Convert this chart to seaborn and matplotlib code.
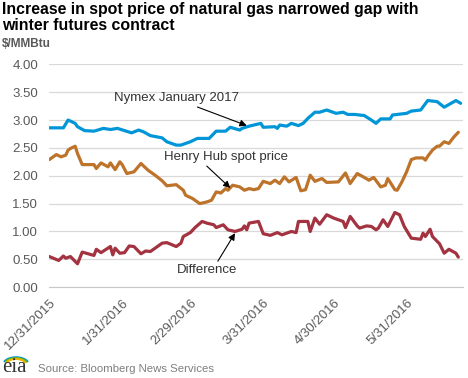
import matplotlib
matplotlib.use("Agg")
import numpy as np
import pandas as pd
import matplotlib.pyplot as plt
import matplotlib.dates as mdates
import seaborn as sns

# ------------------------------
# Data ($/MMBtu)
# ------------------------------
nymex_dates = ["2015-12-31", "2016-01-06", "2016-01-08", "2016-01-11", "2016-01-12", "2016-01-15",
               "2016-01-19", "2016-01-23", "2016-01-26", "2016-01-29", "2016-02-01", "2016-02-04",
               "2016-02-07", "2016-02-09", "2016-02-12", "2016-02-17", "2016-02-19", "2016-02-23",
               "2016-02-25", "2016-02-29", "2016-03-03", "2016-03-08", "2016-03-11", "2016-03-15",
               "2016-03-17", "2016-03-21", "2016-03-22", "2016-03-25", "2016-03-28", "2016-03-30",
               "2016-03-31", "2016-04-05", "2016-04-06", "2016-04-07", "2016-04-10", "2016-04-12",
               "2016-04-15", "2016-04-17", "2016-04-19", "2016-04-22", "2016-04-24", "2016-04-27",
               "2016-05-01", "2016-05-04", "2016-05-06", "2016-05-09", "2016-05-13", "2016-05-16",
               "2016-05-18", "2016-05-20", "2016-05-24", "2016-05-25", "2016-05-31", "2016-06-02",
               "2016-06-06", "2016-06-09", "2016-06-13", "2016-06-16", "2016-06-21", "2016-06-23"]
nymex_vals = [2.86, 2.86, 3.00, 2.94, 2.88, 2.81, 2.80, 2.85, 2.83, 2.85,
              2.81, 2.77, 2.82, 2.79, 2.72, 2.68, 2.61, 2.55, 2.55, 2.61,
              2.67, 2.67, 2.80, 2.80, 2.87, 2.82, 2.85, 2.89, 2.92, 2.94,
              2.87, 2.88, 2.85, 2.91, 2.89, 2.94, 2.90, 2.94, 3.03, 3.14,
              3.14, 3.18, 3.12, 3.14, 3.10, 3.10, 3.08, 3.00, 2.94, 3.02,
              3.02, 3.09, 3.12, 3.16, 3.18, 3.35, 3.33, 3.23, 3.35, 3.30]

hh_dates = ["2015-12-31", "2016-01-03", "2016-01-05", "2016-01-07", "2016-01-08", "2016-01-09",
            "2016-01-11", "2016-01-12", "2016-01-14", "2016-01-19", "2016-01-20", "2016-01-22",
            "2016-01-25", "2016-01-26", "2016-01-28", "2016-01-30", "2016-01-31", "2016-02-02",
            "2016-02-05", "2016-02-08", "2016-02-11", "2016-02-14", "2016-02-17", "2016-02-19",
            "2016-02-23", "2016-02-26", "2016-02-27", "2016-03-01", "2016-03-04", "2016-03-07",
            "2016-03-09", "2016-03-11", "2016-03-13", "2016-03-15", "2016-03-16", "2016-03-18",
            "2016-03-21", "2016-03-23", "2016-03-25", "2016-03-27", "2016-03-29", "2016-03-31",
            "2016-04-03", "2016-04-05", "2016-04-07", "2016-04-09", "2016-04-11", "2016-04-14",
            "2016-04-16", "2016-04-18", "2016-04-20", "2016-04-22", "2016-04-25", "2016-04-27",
            "2016-05-02", "2016-05-05", "2016-05-07", "2016-05-10", "2016-05-13", "2016-05-15",
            "2016-05-17", "2016-05-20", "2016-05-22", "2016-05-23", "2016-05-26", "2016-05-27",
            "2016-05-29", "2016-05-31", "2016-06-02", "2016-06-04", "2016-06-07", "2016-06-08",
            "2016-06-09", "2016-06-11", "2016-06-13", "2016-06-14", "2016-06-16", "2016-06-18",
            "2016-06-20", "2016-06-22"]
hh_vals = [2.29, 2.38, 2.34, 2.37, 2.46, 2.49, 2.53, 2.40, 2.20, 2.20,
           2.13, 2.23, 2.16, 2.23, 2.11, 2.25, 2.20, 2.04, 2.07, 2.22,
           2.10, 2.01, 1.91, 1.82, 1.84, 1.74, 1.65, 1.59, 1.50, 1.53,
           1.56, 1.71, 1.69, 1.77, 1.74, 1.83, 1.80, 1.74, 1.77, 1.75,
           1.77, 1.90, 1.86, 1.92, 1.86, 1.98, 1.89, 1.97, 1.73, 1.75,
           2.01, 1.90, 1.95, 1.88, 1.89, 2.05, 1.86, 2.04, 1.97, 1.92,
           1.97, 1.80, 1.83, 1.95, 1.75, 1.74, 1.89, 2.07, 2.29, 2.32,
           2.32, 2.28, 2.35, 2.46, 2.53, 2.53, 2.61, 2.58, 2.69, 2.78]

diff_dates = ["2015-12-31", "2016-01-04", "2016-01-06", "2016-01-07", "2016-01-09", "2016-01-12",
              "2016-01-14", "2016-01-19", "2016-01-20", "2016-01-22", "2016-01-26", "2016-01-27",
              "2016-01-28", "2016-01-30", "2016-02-01", "2016-02-03", "2016-02-05", "2016-02-08",
              "2016-02-10", "2016-02-12", "2016-02-17", "2016-02-19", "2016-02-23", "2016-02-25",
              "2016-02-26", "2016-02-29", "2016-03-02", "2016-03-05", "2016-03-07", "2016-03-10",
              "2016-03-11", "2016-03-14", "2016-03-16", "2016-03-19", "2016-03-22", "2016-03-23",
              "2016-03-24", "2016-03-25", "2016-03-29", "2016-03-31", "2016-04-03", "2016-04-06",
              "2016-04-08", "2016-04-12", "2016-04-14", "2016-04-15", "2016-04-19", "2016-04-20",
              "2016-04-22", "2016-04-24", "2016-04-27", "2016-04-30", "2016-05-04", "2016-05-05",
              "2016-05-07", "2016-05-10", "2016-05-11", "2016-05-14", "2016-05-16", "2016-05-18",
              "2016-05-19", "2016-05-21", "2016-05-23", "2016-05-26", "2016-05-28", "2016-05-30",
              "2016-06-02", "2016-06-06", "2016-06-07", "2016-06-08", "2016-06-10", "2016-06-11",
              "2016-06-14", "2016-06-16", "2016-06-18", "2016-06-21", "2016-06-22"]
diff_vals = [0.55, 0.48, 0.56, 0.52, 0.55, 0.42, 0.63, 0.57, 0.68, 0.62,
             0.73, 0.58, 0.70, 0.61, 0.62, 0.74, 0.73, 0.60, 0.65, 0.64,
             0.79, 0.80, 0.73, 0.79, 0.91, 0.98, 1.07, 1.18, 1.15, 1.12,
             1.07, 1.12, 1.03, 1.00, 1.04, 1.10, 1.03, 1.15, 1.18, 0.96,
             0.93, 0.98, 0.94, 1.00, 0.98, 1.18, 1.18, 1.00, 1.24, 1.13,
             1.30, 1.24, 1.18, 1.07, 1.27, 1.10, 1.06, 1.10, 1.09, 1.03,
             1.06, 1.21, 1.09, 1.34, 1.30, 1.09, 0.88, 0.86, 0.97, 0.91,
             1.04, 0.91, 0.78, 0.61, 0.68, 0.61, 0.54]

tick_dates = ["2015-12-31", "2016-01-31", "2016-02-29", "2016-03-31", "2016-04-30", "2016-05-31"]
tick_labels = ["12/31/2015", "1/31/2016", "2/29/2016", "3/31/2016", "4/30/2016", "5/31/2016"]

colors = {"Nymex": "#0096d7", "Henry Hub": "#bd732a", "Difference": "#a33340"}

# ------------------------------
# Long-form frame for seaborn
# ------------------------------
df = pd.concat([
    pd.DataFrame({"date": pd.to_datetime(nymex_dates), "value": nymex_vals, "series": "Nymex"}),
    pd.DataFrame({"date": pd.to_datetime(hh_dates), "value": hh_vals, "series": "Henry Hub"}),
    pd.DataFrame({"date": pd.to_datetime(diff_dates), "value": diff_vals, "series": "Difference"}),
], ignore_index=True)

# ------------------------------
# Plot
# ------------------------------
sns.set_style("white")
plt.rcParams["font.family"] = ["Liberation Sans", "DejaVu Sans"]

W, H = 468, 378
fig = plt.figure(figsize=(W / 100, H / 100), dpi=100)
ax = fig.add_axes([49.3 / W, 90.8 / H, (463 - 49.3) / W, (287.2 - 64.3) / H])

sns.lineplot(data=df, x="date", y="value", hue="series", palette=colors,
             linewidth=2.3, legend=False, ax=ax)

ax.set_xlim(pd.Timestamp("2015-12-31"), pd.Timestamp("2016-06-24"))
ax.set_ylim(0, 4)
yt = np.arange(0, 4.01, 0.5)
ax.set_yticks(yt)
ax.set_yticklabels([f"{v:.2f}" for v in yt])
ax.set_xticks(pd.to_datetime(tick_dates))
ax.set_xticklabels(tick_labels, rotation=45, ha="right", va="top", rotation_mode="anchor")
ax.yaxis.grid(True, color="#d9d9d9", linewidth=0.9)
ax.set_axisbelow(True)
for s in ["left", "right", "top"]:
    ax.spines[s].set_visible(False)
ax.spines["bottom"].set_color("#c8c8c8")
ax.tick_params(axis="x", length=4, color="#c8c8c8", pad=3, labelsize=9.5, labelcolor="#595959")
ax.tick_params(axis="y", length=0, pad=8, labelsize=9.5, labelcolor="#595959")
ax.set_xlabel("")
ax.set_ylabel("")


def d(s):
    return mdates.date2num(pd.Timestamp(s))


def arrow(rel):
    return dict(arrowstyle="-|>", color="black", lw=0.8, mutation_scale=10,
                shrinkA=0, shrinkB=0, relpos=rel)


ax.annotate("Nymex January 2017", xy=(d("2016-03-24"), 2.90), xytext=(d("2016-02-23"), 3.40),
            ha="center", va="center", fontsize=9.5, color="#333333", arrowprops=arrow((0.6, 0)))
ax.annotate("Henry Hub spot price", xy=(d("2016-03-17"), 1.78), xytext=(d("2016-03-15"), 2.34),
            ha="center", va="center", fontsize=9.5, color="#333333", arrowprops=arrow((0.32, 0)))
ax.annotate("Difference", xy=(d("2016-03-19"), 0.97), xytext=(d("2016-03-07"), 0.30),
            ha="center", va="center", fontsize=9.5, color="#333333", arrowprops=arrow((0.65, 1)))

# Titles and source
fig.text(2 / W, 1 - 2 / H, "Increase in spot price of natural gas narrowed gap with\nwinter futures contract",
         ha="left", va="top", fontsize=11.4, fontweight="bold", color="black", linespacing=1.12)
fig.text(2 / W, 1 - 38 / H, "$/MMBtu", ha="left", va="top", fontsize=8.5,
         fontweight="bold", color="#595959")
fig.text(38 / W, 1 - 369 / H, "Source: Bloomberg News Services", ha="left", va="center",
         fontsize=8.2, color="#7f7f7f")

# small eia mark
logo = fig.add_axes([1 / W, 3 / H, 30 / W, 28 / H])
logo.set_xlim(0, 30)
logo.set_ylim(0, 28)
logo.axis("off")
t = np.linspace(0.15 * np.pi, 0.85 * np.pi, 30)
for r, c in [(13, "#0096d7"), (11.5, "#7ab800"), (10, "#f2b300")]:
    logo.plot(15 + r * np.cos(t), 10 + r * np.sin(t) * 0.6, color=c, lw=1.4)
logo.text(1, 3, "eia", fontsize=15, family=["Liberation Serif", "DejaVu Serif"],
          color="#333333", ha="left", va="baseline")

fig.savefig("out.png", dpi=100)
